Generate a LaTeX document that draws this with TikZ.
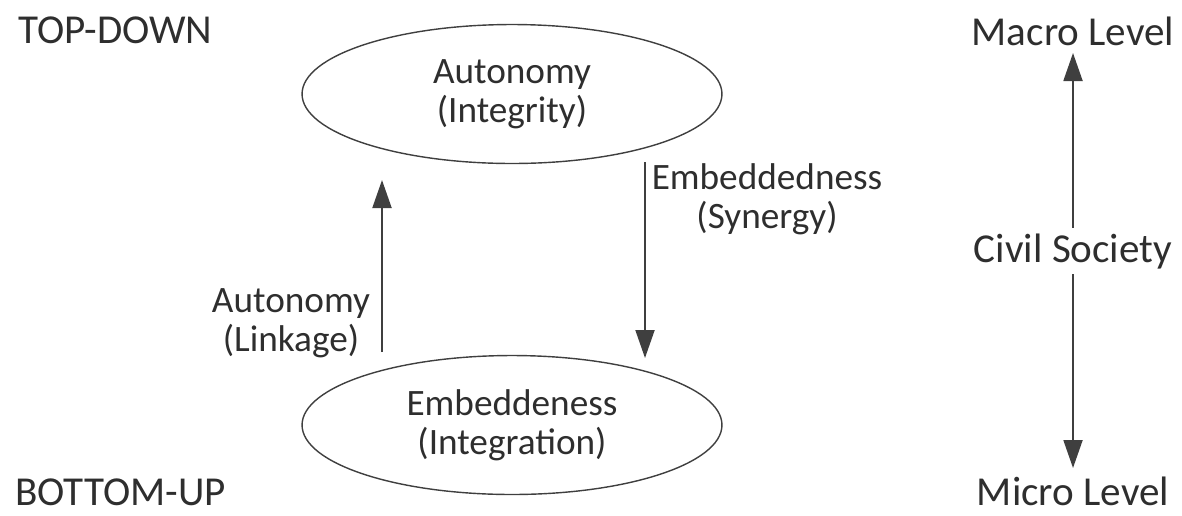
\documentclass[tikz,border=0pt]{standalone}
\usepackage{fontspec}
\setmainfont{Carlito}
\usetikzlibrary{arrows.meta,shapes.geometric}
\definecolor{Ink}{HTML}{3F3F3F}
\definecolor{Txt}{HTML}{2E2E2E}
\tikzset{label/.style={text=Txt,font=\fontsize{21.2}{22.4}\selectfont,align=center,inner sep=3pt},sidelabel/.style={label,font=\fontsize{23.4}{25}\selectfont},oval/.style={ellipse,draw=Ink,line width=.8pt,minimum width=8.4cm,minimum height=2.78cm,inner sep=0pt,label},flow/.style={-{Triangle[length=.56cm,width=.38cm]},line width=1.1pt,draw=Ink}}

\begin{document}
\begin{tikzpicture}[x=.02cm,y=-.02cm]
        \useasboundingbox(0,0)rectangle(1182,515);
        \node[sidelabel,anchor=base west,inner sep=0pt](topdown)at(18,43){TOP-DOWN};
        \node[sidelabel,anchor=base west,inner sep=0pt](bottomup)at(15,505){BOTTOM-UP};
        \node[oval](integrity)at(512,94){Autonomy\\(Integrity)};
        \node[oval](integration)at(512,425){Embeddeness\\(Integration)};
        \node[label](linkage)at(291,323){Autonomy\\(Linkage)};
        \node[label](synergy)at(767,199){Embeddedness\\(Synergy)};
        \node[sidelabel,anchor=base](macro)at(1073,45){Macro Level};
        \node[sidelabel,anchor=base](civil)at(1073,262){Civil Society};
        \node[sidelabel,anchor=base](micro)at(1073,505){Micro Level};
        \coordinate(upS)at(382,352);
        \coordinate(upE)at(382,180);
        \coordinate(downS)at(645,162);
        \coordinate(downE)at(645,358);
        \draw[flow](upS)--(upE);
        \draw[flow](downS)--(downE);
        \draw[flow](civil.north)--(1073,53);
        \draw[flow](civil.south)--(1073,468);
      \end{tikzpicture}
\end{document}
